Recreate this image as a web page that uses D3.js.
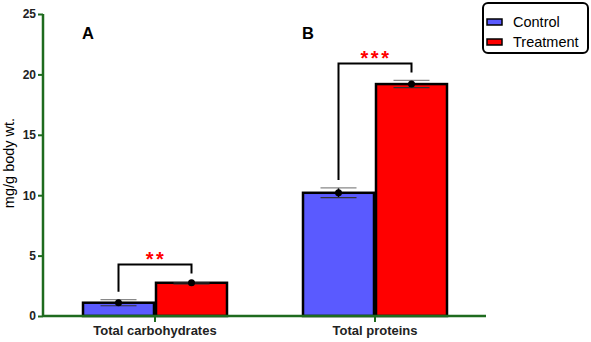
<!DOCTYPE html>
<html><head><meta charset="utf-8">
<script src="https://cdn.jsdelivr.net/npm/d3@7"></script>
<style>body{margin:0;background:#fff}svg{display:block}</style>
</head><body>
<script>
const categories = ["Total carbohydrates", "Total proteins"];
const series = ["Control", "Treatment"];
const controlValues = [1.1, 10.2];
const treatmentValues = [2.75, 19.2];
const controlErr = [0.25, 0.4];
const treatmentErr = [0.1, 0.3];
const panelLabels = ["A", "B"];
const sigLabels = ["**", "***"];
const yTicks = [0, 5, 10, 15, 20, 25];
const colors = ["#5a5aff", "#ff0000"];

const W = 591, H = 342;
const FONT = "Liberation Sans, Arial, sans-serif";
const svg = d3.select("body").append("svg").attr("width", W).attr("height", H);
const axisColor = "#1e6b1e";
const y = d3.scaleLinear().domain([0, 25]).range([316, 14]);
const x0 = d3.scaleBand().domain(categories).range([45, 485]);
const x1 = d3.scaleBand().domain(series).range([-73, 73]);

const data = categories.map((c, i) => ({
  cat: c,
  vals: [
    {s: series[0], v: controlValues[i], e: controlErr[i]},
    {s: series[1], v: treatmentValues[i], e: treatmentErr[i]}
  ]
}));

const g = svg.append("g");
data.forEach((d, i) => {
  const cx = x0(d.cat) + x0.bandwidth() / 2;
  d.vals.forEach((b, j) => {
    g.append("rect")
      .attr("x", cx + x1(b.s) + 1)
      .attr("width", x1.bandwidth() - 2)
      .attr("y", y(b.v))
      .attr("height", y(0) - y(b.v))
      .attr("fill", colors[j])
      .attr("stroke", "#000").attr("stroke-width", 2.5);
  });
  d.vals.forEach((b, j) => {
    const bx = cx + x1(b.s) + x1.bandwidth() / 2;
    g.append("line").attr("x1", bx).attr("x2", bx).attr("y1", y(b.v + b.e)).attr("y2", y(b.v - b.e))
      .attr("stroke", "#000").attr("stroke-width", 1.5);
    g.append("line").attr("x1", bx - 18).attr("x2", bx + 18).attr("y1", y(b.v + b.e)).attr("y2", y(b.v + b.e))
      .attr("stroke", "#888").attr("stroke-width", 1.2);
    g.append("line").attr("x1", bx - 18).attr("x2", bx + 18).attr("y1", y(b.v - b.e)).attr("y2", y(b.v - b.e))
      .attr("stroke", "#333").attr("stroke-width", 1.2);
    g.append("circle").attr("cx", bx).attr("cy", y(b.v)).attr("r", 3.5).attr("fill", "#000");
  });
  // significance bracket
  const lx = cx + x1(series[0]) + x1.bandwidth() / 2;
  const rx = cx + x1(series[1]) + x1.bandwidth() / 2;
  const tErrTop = y(d.vals[1].v + d.vals[1].e);
  const top = tErrTop - 17;
  const ly = y(d.vals[0].v + d.vals[0].e) - 8;
  const ry = tErrTop - 8;
  g.append("path")
    .attr("d", `M${lx},${ly}V${top}H${rx}V${ry}`)
    .attr("fill", "none").attr("stroke", "#000").attr("stroke-width", 2);
  g.append("text").attr("x", cx + 1).attr("y", top + 1.5)
    .attr("text-anchor", "middle").attr("fill", "#ff0000")
    .attr("font-family", FONT).attr("font-size", 20).attr("font-weight", "bold")
    .attr("letter-spacing", 2.5)
    .text(sigLabels[i]);
  svg.append("text").attr("x", cx - 67).attr("y", 39)
    .attr("text-anchor", "middle")
    .attr("font-family", FONT).attr("font-size", 16.5).attr("font-weight", "bold")
    .text(panelLabels[i]);
});

// axes
const yAxis = svg.append("g").attr("transform", "translate(43,0)")
  .call(d3.axisLeft(y).tickValues(yTicks).tickSize(5).tickPadding(2));
yAxis.select(".domain").attr("stroke", axisColor).attr("stroke-width", 2.5).attr("d", `M0,${y(25)}V${y(0)}`);
yAxis.selectAll(".tick line").attr("stroke", axisColor).attr("stroke-width", 2);
yAxis.selectAll(".tick text").attr("font-family", FONT)
  .attr("font-size", 12).attr("font-weight", "bold").attr("fill", "#222");

const xAxis = svg.append("g").attr("transform", `translate(0,${y(0)})`)
  .call(d3.axisBottom(x0).tickSize(6).tickPadding(4));
xAxis.select(".domain").attr("stroke", axisColor).attr("stroke-width", 2.5).attr("d", "M43,0H486");
xAxis.selectAll(".tick line").attr("stroke", axisColor).attr("stroke-width", 2);
xAxis.selectAll(".tick text").attr("font-family", FONT)
  .attr("font-size", 13).attr("font-weight", "bold").attr("fill", "#222");

svg.append("text").attr("transform", "translate(14,163) rotate(-90)")
  .attr("text-anchor", "middle")
  .attr("font-family", FONT).attr("font-size", 14.5)
  .text("mg/g body wt.");

// legend
const lg = svg.append("g");
lg.append("rect").attr("x", 483).attr("y", 3).attr("width", 105).attr("height", 50).attr("rx", 5)
  .attr("fill", "#fff").attr("stroke", "#000").attr("stroke-width", 2);
series.forEach((s, i) => {
  lg.append("rect").attr("x", 487).attr("y", 19 + i * 20).attr("width", 15).attr("height", 6)
    .attr("fill", colors[i]).attr("stroke", "#000").attr("stroke-width", 1.5);
  lg.append("text").attr("x", 513).attr("y", 26.5 + i * 20)
    .attr("font-family", FONT).attr("font-size", 14.5)
    .text(s);
});
</script>
</body></html>
